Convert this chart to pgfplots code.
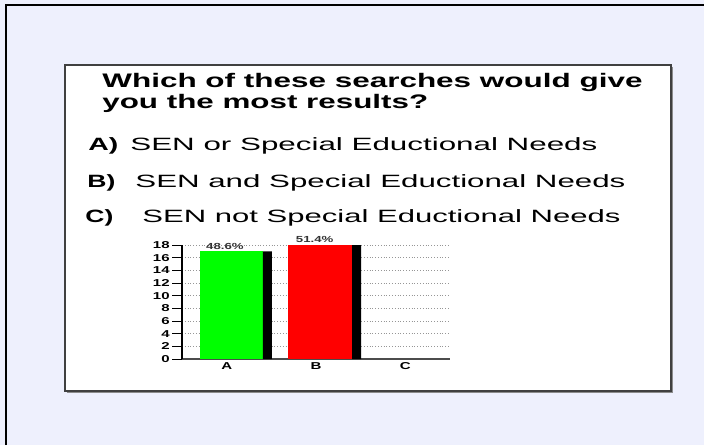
\documentclass[border=0pt]{standalone}
\usepackage{fontspec}
\setmainfont{Liberation Sans}
\usepackage{pgfplots}
\pgfplotsset{compat=1.18}
\definecolor{bgc}{RGB}{238,240,253}
\definecolor{gridc}{RGB}{150,150,150}
\definecolor{barg}{RGB}{0,255,0}
\definecolor{barr}{RGB}{255,0,0}
\newcommand\sx[1]{\scalebox{1.5}[1]{#1}}
\begin{document}
\begin{tikzpicture}
\useasboundingbox (0,0) rectangle (352pt,-222.5pt);
\fill[bgc] (0,0) rectangle (352pt,-222.5pt);
\draw[black, line width=1pt] (3pt,-222.5pt) -- (3pt,-2.5pt) -- (352pt,-2.5pt);
\fill[black!45] (33.5pt,-33.5pt) rectangle (336.5pt,-196.5pt);
\filldraw[fill=white, draw=black!75, line width=0.75pt] (32.5pt,-32.5pt) rectangle (335.5pt,-195.5pt);
% title
\node[anchor=base west, inner sep=0] at (51pt,-43.5pt) {\resizebox{270pt}{\height}{\fontsize{9.8}{12}\selectfont\bfseries Which of these searches would give}};
\node[anchor=base west, inner sep=0] at (51pt,-54pt) {\scalebox{1.6}[1]{\fontsize{9.8}{12}\selectfont\bfseries you the most results?}};
% options
\node[anchor=base west, inner sep=0] at (44pt,-75pt) {\resizebox{15pt}{\height}{\fontsize{8.9}{10}\selectfont\bfseries A)}};
\node[anchor=base west, inner sep=0] at (65pt,-75pt) {\resizebox{233.5pt}{\height}{\fontsize{8.9}{10}\selectfont SEN or Special Eductional Needs}};
\node[anchor=base west, inner sep=0] at (43.5pt,-93.5pt) {\resizebox{14pt}{\height}{\fontsize{8.9}{10}\selectfont\bfseries B)}};
\node[anchor=base west, inner sep=0] at (67.5pt,-93.5pt) {\resizebox{245pt}{\height}{\fontsize{8.9}{10}\selectfont SEN and Special Eductional Needs}};
\node[anchor=base west, inner sep=0] at (42.5pt,-111pt) {\resizebox{14pt}{\height}{\fontsize{8.9}{10}\selectfont\bfseries C)}};
\node[anchor=base west, inner sep=0] at (71pt,-111pt) {\resizebox{239pt}{\height}{\fontsize{8.9}{10}\selectfont SEN not Special Eductional Needs}};
\begin{axis}[
  at={(91pt,-179.5pt)}, anchor=south west, scale only axis,
  width=134pt, height=57pt,
  xmin=-0.5, xmax=2.5, ymin=0, ymax=18,
  axis x line*=bottom, axis y line*=left,
  x axis line style={draw=black!70, line width=0.8pt},
  y axis line style={draw=black, line width=0.6pt},
  xtick={0,1,2}, xticklabels={\sx{A},\sx{B},\sx{C}},
  x tick style={draw=none},
  xticklabel style={yshift=4.5pt},
  ytick={0,2,...,18},
  yticklabels={\sx{0},\sx{2},\sx{4},\sx{6},\sx{8},\sx{10},\sx{12},\sx{14},\sx{16},\sx{18}},
  y tick style={black, line width=0.5pt},
  major tick length=5pt, tick align=outside,
  ymajorgrids, major grid style={densely dotted, gridc, line width=0.5pt},
  ticklabel style={font=\fontsize{5}{6}\selectfont\bfseries, inner sep=1pt},
  clip=false,
]
\addplot[ybar, fill=barg, draw=none, bar width=31.5pt, bar shift=2.4pt] coordinates {(0,17)};
\addplot[ybar, fill=barr, draw=none, bar width=32pt, bar shift=2pt] coordinates {(1,18)};
\addplot[ybar, fill=black, draw=none, bar width=4.5pt, bar shift=20.3pt] coordinates {(0,17) (1,18)};
\node[font=\fontsize{4.4}{5}\selectfont\bfseries, text=black!80, anchor=south, inner sep=0.5pt] at (axis cs:-0.02,17) {\sx{48.6\%}};
\node[font=\fontsize{4.4}{5}\selectfont\bfseries, text=black!80, anchor=south, inner sep=0.8pt] at (axis cs:0.985,18) {\sx{51.4\%}};
\end{axis}
\end{tikzpicture}
\end{document}
